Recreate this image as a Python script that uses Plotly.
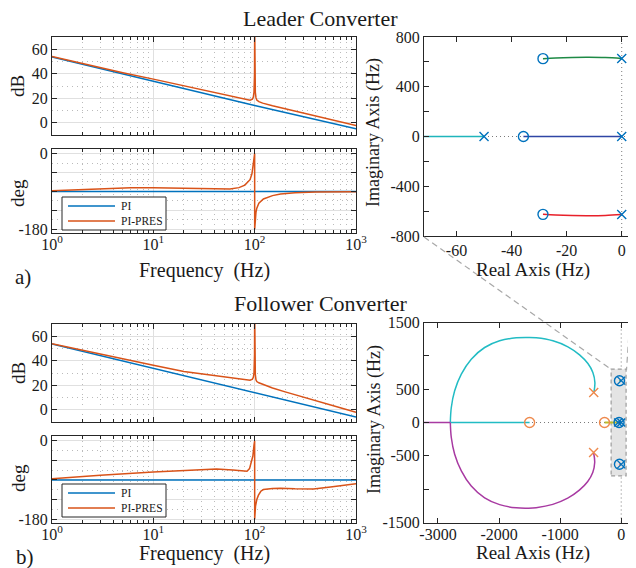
import plotly.graph_objects as go

# The page body has an 8px margin, so the figure is drawn 8px smaller and
# reference pixel coordinates are shifted by 8px.
OFF = 8
W, H = 636 - OFF, 568 - OFF
def px(x): return (x - OFF) / W
def py(y): return 1 - (y - OFF) / H

# ---------------- Bode data ----------------
freq_pi = [1, 10, 100, 1000]
mag_pi_L = [53.7, 33.8, 14.0, -5.0]
mag_pi_F = [53.7, 33.9, 14.0, -6.0]
ph_pi = [-90, -90, -90, -90]

freq_mag = [1, 2, 5, 10, 20, 50, 70, 80, 90, 95, 97, 98.5, 99.3, 99.7, 100,
            100.3, 100.7, 101.5, 103, 105, 110, 120, 150, 200, 300, 500, 700, 1000]
mag_pres_L = [54.0, 48.2, 40.8, 35.6, 30.0, 22.6, 20.2, 19.2, 18.4, 19.2, 21.0, 25, 31, 40, 80,
              40, 31, 25, 20.5, 18.6, 17.2, 16.0, 13.8, 11.3, 7.8, 3.3, 0.6, -2.3]
mag_pres_F = [53.9, 48.5, 41.5, 36.3, 31.2, 26.5, 24.9, 24.3, 24.0, 25.0, 26.5, 30, 36, 45, 80,
              45, 36, 29, 24.5, 23.0, 22.0, 20.8, 17.8, 14.6, 10.2, 5.0, 1.6, -2.0]

freq_ph_L = [1, 2, 4, 6, 10, 20, 40, 57, 70, 80, 90, 94, 96, 98, 99.5, 99.95,
             100.05, 101, 102, 103, 105, 110, 122, 150, 180, 250, 400, 1000]
ph_pres_L = [-88.5, -85, -82, -81, -81.5, -83, -84, -84.5, -81, -75, -62, -48, -32, -12, -2, 0,
             -180, -165, -150, -140, -130, -118, -108, -100, -96, -93, -91.5, -90.5]

freq_ph_F = [1, 3, 10, 29, 42, 61, 77, 84, 89, 94, 96, 98.5, 99.95,
             100.05, 102, 105, 109, 115, 122, 150, 180, 250, 380, 560, 1000]
ph_pres_F = [-87, -79, -72, -66, -65, -67, -70, -70, -64, -47, -35, -10, 0,
             -180, -150, -135, -125, -116, -112, -109.5, -109, -110.5, -111, -106, -99]

bode_tickvals = [1, 10, 100, 1000]
bode_ticktext = ["10<sup>0</sup>", "10<sup>1</sup>", "10<sup>2</sup>", "10<sup>3</sup>"]
bode_minor = [2, 3, 4, 5, 6, 7, 8, 9, 20, 30, 40, 50, 60, 70, 80, 90,
              200, 300, 400, 500, 600, 700, 800, 900]
legend_labels = ["PI", "PI-PRES"]

# ---------------- Root locus data: Leader ----------------
rlL_cyan_x = [-80, -50];            rlL_cyan_y = [0, 0]
rlL_blue_x = [-35.7, 0];            rlL_blue_y = [0, 0]
rlL_green_x = [-28.6, -24, -18, -12, -6, 0]
rlL_green_y = [626, 632, 636, 637, 635, 628]
rlL_red_x = [-28.6, -24, -18, -12, -6, 0]
rlL_red_y = [-626, -632, -636, -637, -635, -628]
polesL_x = [-50, 0, 0, 0];          polesL_y = [0, 0, 628, -628]
zerosL_x = [-35.7, -28.6, -28.6];   zerosL_y = [0, 626, -626]

# ---------------- Root locus data: Follower ----------------
rlF_cyan_x = [-447, -431, -464, -545, -682, -873, -1118, -1391, -1516, -1718, -1991,
              -2236, -2455, -2618, -2727, -2782, -2798]
rlF_cyan_y = [450, 600, 750, 885, 1015, 1135, 1225, 1270, 1275, 1270, 1225,
              1125, 950, 725, 475, 225, 0]
rlF_cyan_axis_x = [-2798, -1500];   rlF_cyan_axis_y = [0, 0]
rlF_mag_x = [-452, -434, -466, -548, -685, -876, -1120, -1393, -1516, -1718, -1991,
             -2236, -2455, -2618, -2727, -2782, -2798]
rlF_mag_y = [-450, -600, -750, -885, -1015, -1135, -1228, -1278, -1285, -1280, -1232,
             -1130, -952, -725, -475, -225, 0]
rlF_mag_axis_x = [-2798, -3400];    rlF_mag_axis_y = [0, 0]
rlF_olive_x = [-273, -30];          rlF_olive_y = [0, 0]
rlF_green_x = [-28.6, 0];           rlF_green_y = [626, 628]
rlF_red_x = [-28.6, 0];             rlF_red_y = [-626, -628]
rlF_blue_x = [-35.7, 0];            rlF_blue_y = [0, 0]
zerosF_o_x = [-1500, -273];         zerosF_o_y = [0, 0]
polesF_o_x = [-450, -452];          polesF_o_y = [450, -450]
zerosF_b_x = [-28.6, -35.7, -28.6]; zerosF_b_y = [626, 0, -626]
polesF_b_x = [0, 0, 0, -50];        polesF_b_y = [628, 0, -628, 0]
zoom_box_x = [-165, 80];            zoom_box_y = [-800, 800]

rlL_xticks = [-60, -40, -20, 0]
rlL_yticks = [-800, -600, -400, -200, 0, 200, 400, 600, 800]
rlL_ylabels = ["-800", "", "-400", "", "0", "", "400", "", "800"]
rlF_xticks = [-3000, -2000, -1000, 0]
rlF_yticks = [-1500, -1000, -500, 0, 500, 1000, 1500]
rlF_ylabels = ["-1500", "", "-500", "0", "500", "", "1500"]

# ---------------- style ----------------
BLUE = "#0072BD"
ORANGE = "#D95319"
AX = "#262626"
FONT = "Liberation Serif"
GRID = "#E0E0E0"
MINOR = "#BBBBBB"

fig = go.Figure()

def line(xa, ya, x, y, color, width=1.5, shape="linear"):
    fig.add_trace(go.Scatter(x=x, y=y, mode="lines", xaxis=xa, yaxis=ya,
                             line=dict(color=color, width=width, shape=shape),
                             showlegend=False, hoverinfo="skip"))

def marks(xa, ya, x, y, color, symbol, size=9):
    fig.add_trace(go.Scatter(x=x, y=y, mode="markers", xaxis=xa, yaxis=ya,
                             marker=dict(symbol=symbol, size=size, color=color,
                                         line=dict(color=color, width=1.4)),
                             showlegend=False, hoverinfo="skip"))

# Bode traces
line("x", "y", freq_pi, mag_pi_L, BLUE)
line("x", "y", freq_mag, mag_pres_L, ORANGE)
line("x2", "y2", freq_pi, ph_pi, BLUE)
line("x2", "y2", freq_ph_L, ph_pres_L, ORANGE)
line("x3", "y3", freq_pi, mag_pi_F, BLUE)
line("x3", "y3", freq_mag, mag_pres_F, ORANGE)
line("x4", "y4", freq_pi, ph_pi, BLUE)
line("x4", "y4", freq_ph_F, ph_pres_F, ORANGE)

# Leader root locus
line("x5", "y5", rlL_cyan_x, rlL_cyan_y, "#1FB5BB")
line("x5", "y5", rlL_blue_x, rlL_blue_y, "#2F45A5")
line("x5", "y5", rlL_green_x, rlL_green_y, "#1E8A45", shape="spline")
line("x5", "y5", rlL_red_x, rlL_red_y, "#E8202A", shape="spline")
marks("x5", "y5", zerosL_x, zerosL_y, BLUE, "circle-open", 10)
marks("x5", "y5", polesL_x, polesL_y, BLUE, "x-thin-open", 9)

# Follower root locus
line("x6", "y6", rlF_cyan_x, rlF_cyan_y, "#22BCC4", shape="spline")
line("x6", "y6", rlF_cyan_axis_x, rlF_cyan_axis_y, "#22BCC4")
line("x6", "y6", rlF_mag_x, rlF_mag_y, "#A83AA2", shape="spline")
line("x6", "y6", rlF_mag_axis_x, rlF_mag_axis_y, "#A83AA2")
line("x6", "y6", rlF_olive_x, rlF_olive_y, "#BDBD2A", width=2)
line("x6", "y6", rlF_green_x, rlF_green_y, "#1E8A45", width=2)
line("x6", "y6", rlF_red_x, rlF_red_y, "#E8202A", width=2)
line("x6", "y6", rlF_blue_x, rlF_blue_y, "#2F45A5", width=2)
marks("x6", "y6", zerosF_o_x, zerosF_o_y, "#EE8A4E", "circle-open", 10)
marks("x6", "y6", polesF_o_x, polesF_o_y, "#EE8A4E", "x-thin-open", 9)
marks("x6", "y6", zerosF_b_x, zerosF_b_y, BLUE, "circle-open", 10)
marks("x6", "y6", polesF_b_x, polesF_b_y, BLUE, "x-thin-open", 8)

tickfont = dict(family=FONT, size=16, color="#1a1a1a")

def base_axis(**kw):
    d = dict(showline=True, linecolor=AX, linewidth=1, mirror="ticks", ticks="inside",
             ticklen=5, tickcolor=AX, tickwidth=1, zeroline=False, tickfont=tickfont,
             fixedrange=True, automargin=False)
    d.update(kw)
    return d

def bode_x(domain, anchor, labels):
    return base_axis(domain=domain, anchor=anchor, type="log", range=[0, 3],
                     tickmode="array", tickvals=bode_tickvals, ticktext=bode_ticktext,
                     showticklabels=labels, showgrid=True, gridcolor=GRID, gridwidth=1,
                     ticklabelstandoff=-3,
                     minor=dict(tickmode="array", tickvals=bode_minor, ticks="inside", ticklen=3,
                                tickcolor=AX, showgrid=True, gridcolor=MINOR,
                                griddash="1px,4px", gridwidth=1))

def mag_y(domain, anchor):
    return base_axis(domain=domain, anchor=anchor, range=[-10, 70], tickmode="array",
                     tickvals=[0, 20, 40, 60], ticktext=["0", "20", "40", "60"],
                     showgrid=True, gridcolor=GRID,
                     minor=dict(tickmode="array", tickvals=[10, 30, 50], ticks="",
                                showgrid=True, gridcolor=MINOR, griddash="1px,4px"))

def ph_y(domain, anchor):
    return base_axis(domain=domain, anchor=anchor, range=[-189, 11], tickmode="array",
                     tickvals=[-180, -135, -90, -45, 0], ticktext=["-180", "", "", "", "0"],
                     showgrid=True, gridcolor=GRID,
                     minor=dict(tickmode="array", tickvals=[-157.5, -112.5, -67.5, -22.5],
                                ticks="", showgrid=True, gridcolor=MINOR, griddash="1px,4px"))

bx = [px(52), px(356)]
rx = [px(424), px(635.5)]
fig.update_layout(
    template="none",
    width=W, height=H, autosize=False, margin=dict(l=0, r=0, t=0, b=0, pad=0),
    paper_bgcolor="white", plot_bgcolor="white", showlegend=False,
    font=dict(family=FONT, color="#1a1a1a"),
    xaxis=bode_x(bx, "y", False),
    yaxis=mag_y([py(135), py(37)], "x"),
    xaxis2=bode_x(bx, "y2", True),
    yaxis2=ph_y([py(233), py(149)], "x2"),
    xaxis3=bode_x(bx, "y3", False),
    yaxis3=mag_y([py(422), py(324)], "x3"),
    xaxis4=bode_x(bx, "y4", True),
    yaxis4=ph_y([py(523), py(436)], "x4"),
    xaxis5=base_axis(domain=rx, anchor="y5", range=[-71.8, 5], tickmode="array",
                     tickvals=rlL_xticks, ticktext=[str(v) for v in rlL_xticks], showgrid=False),
    yaxis5=base_axis(domain=[py(236), py(37)], anchor="x5", range=[-800, 800], tickmode="array",
                     tickvals=rlL_yticks, ticktext=rlL_ylabels, showgrid=False),
    xaxis6=base_axis(domain=rx, anchor="y6", range=[-3229, 234], tickmode="array",
                     tickvals=rlF_xticks, ticktext=[str(v) for v in rlF_xticks], showgrid=False,
                     ticklabelstandoff=-3),
    yaxis6=base_axis(domain=[py(522.5), py(322.5)], anchor="x6", range=[-1500, 1500],
                     tickmode="array", tickvals=rlF_yticks, ticktext=rlF_ylabels, showgrid=False),
)

shapes = []
# dotted axis lines in root locus plots
for xr, yr in (("x5", "y5"), ("x6", "y6")):
    shapes.append(dict(type="line", xref=xr + " domain", x0=0, x1=1, yref=yr, y0=0, y1=0,
                       line=dict(color="#7A7A7A", width=1, dash="1px,3px"), layer="below"))
# zoom box
shapes.append(dict(type="rect", xref="x6", yref="y6", x0=zoom_box_x[0], x1=zoom_box_x[1],
                   y0=zoom_box_y[0], y1=zoom_box_y[1], fillcolor="#E4E4E4",
                   line=dict(color="#9C9C9C", width=1.2, dash="4px,3px"), layer="below"))
for xr, yr in (("x5", "y5"), ("x6", "y6")):
    shapes.append(dict(type="line", yref=yr + " domain", y0=0, y1=1, xref=xr, x0=0, x1=0,
                       line=dict(color="#7A7A7A", width=1, dash="1px,3px"), layer="below"))
# connector lines
shapes.append(dict(type="line", xref="paper", yref="paper", x0=px(424), y0=py(237),
                   x1=px(612), y1=py(370), line=dict(color="#A8A8A8", width=1.2, dash="6px,4px")))
shapes.append(dict(type="line", xref="paper", yref="paper", x0=px(635.5), y0=py(237),
                   x1=px(626.5), y1=py(370), line=dict(color="#A8A8A8", width=1.2, dash="6px,4px")))

annotations = []
def text(x, y, s, size, angle=0, xanchor="center"):
    annotations.append(dict(x=px(x), y=py(y), xref="paper", yref="paper", text=s,
                            showarrow=False, textangle=angle, xanchor=xanchor, yanchor="middle",
                            font=dict(family=FONT, size=size, color="#1a1a1a")))

# manual legends
for top in (197, 484):
    shapes.append(dict(type="rect", xref="paper", yref="paper", x0=px(62), x1=px(166),
                       y0=py(top + 33), y1=py(top), fillcolor="white",
                       line=dict(color=AX, width=1), layer="above"))
    for i, c in enumerate((BLUE, ORANGE)):
        yy = top + 9 + i * 15
        shapes.append(dict(type="line", xref="paper", yref="paper", x0=px(68), x1=px(115),
                           y0=py(yy), y1=py(yy), line=dict(color=c, width=1.5), layer="above"))
        text(119, yy, legend_labels[i], 11.5, xanchor="left")

text(320.5, 18, "Leader Converter", 22)
text(320.5, 303, "Follower Converter", 22)
text(18, 86, "dB", 19, -90)
text(18, 193, "deg", 19, -90)
text(18, 373, "dB", 19, -90)
text(18, 478, "deg", 19, -90)
text(204, 270, "Frequency  (Hz)", 20)
text(204, 553, "Frequency  (Hz)", 20)
text(23, 277, "a)", 21)
text(25, 557, "b)", 21)
text(374, 133, "Imaginary Axis (Hz)", 18, -90)
text(374, 420, "Imaginary Axis (Hz)", 18, -90)
text(533, 270, "Real Axis (Hz)", 19)
text(533, 553, "Real Axis (Hz)", 19)

fig.update_layout(shapes=shapes, annotations=annotations)
fig.write_html("out.html")
